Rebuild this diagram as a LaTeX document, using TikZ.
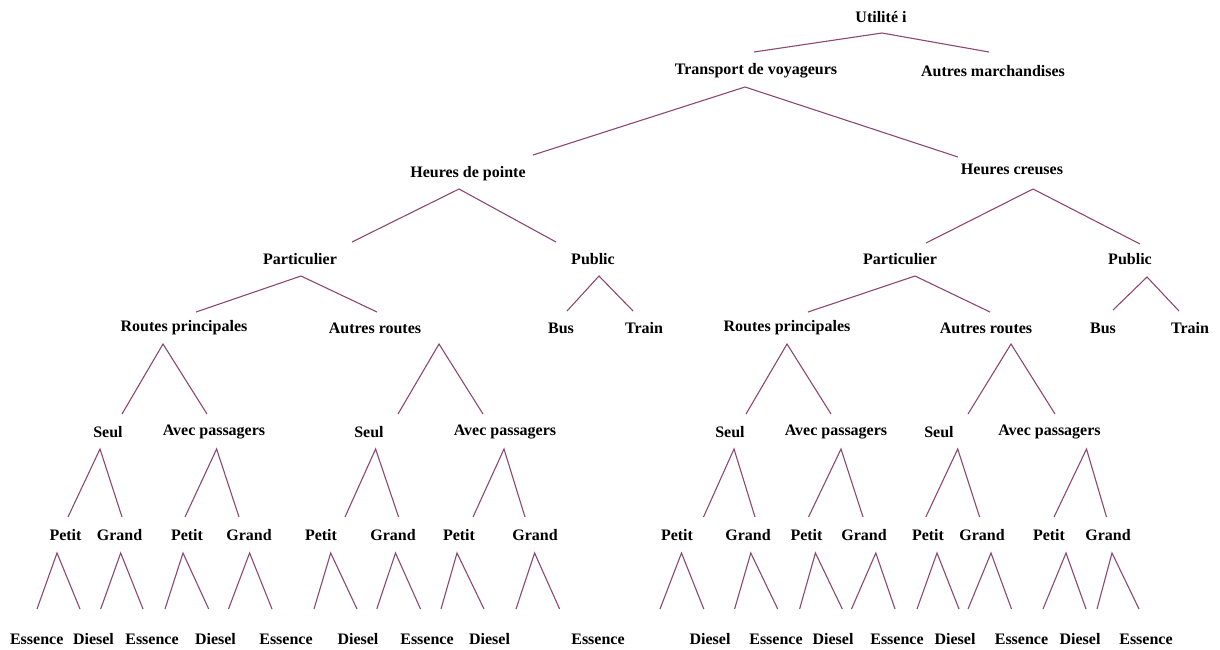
\documentclass[tikz,border=0pt]{standalone}
\usepackage{fontspec}
\setmainfont{Liberation Serif}
\begin{document}
\begin{tikzpicture}[x=1pt,y=-1pt,
  lbl/.style={inner sep=0pt,font=\bfseries\fontsize{16}{19}\selectfont,text=black},
  br/.style={draw={rgb,255:red,140;green,72;blue,112},line width=1.1pt,line join=miter}]
\useasboundingbox (0,0) rectangle (1220,649);
% labels
\node[lbl] (u) at (881,17) {Utilité i};
\node[lbl] (t) at (756,71) {Transport de voyageurs};
\node[lbl] (am) at (993,71) {Autres marchandises};
\node[lbl] (hp) at (468,174) {Heures de pointe};
\node[lbl] (hc) at (1012,169) {Heures creuses};
\node[lbl] (pl) at (300,259) {Particulier};
\node[lbl] (pul) at (593,259) {Public};
\node[lbl] (pr) at (900,259) {Particulier};
\node[lbl] (pur) at (1130,259) {Public};
\node[lbl] (rpl) at (184,328) {Routes principales};
\node[lbl] (arl) at (375,328) {Autres routes};
\node[lbl] (busl) at (561,328) {Bus};
\node[lbl] (trl) at (644,328) {Train};
\node[lbl] (rpr) at (787,328) {Routes principales};
\node[lbl] (arr) at (986,328) {Autres routes};
\node[lbl] (busr) at (1103,328) {Bus};
\node[lbl] (trr) at (1190,328) {Train};
\foreach \x/\t [count=\i] in {108/Seul,214/Avec passagers,369/Seul,505/Avec passagers,730/Seul,836/Avec passagers,939/Seul,1049.5/Avec passagers}
  \node[lbl] (m\i) at (\x,432) {\t};
\foreach \x/\t [count=\i] in {65.5/Petit,119.5/Grand,187/Petit,249/Grand,321/Petit,393/Grand,459/Petit,535/Grand,677/Petit,748/Grand,806.5/Petit,864/Grand,928/Petit,982/Grand,1049/Petit,1108/Grand}
  \node[lbl] (s\i) at (\x,535) {\t};
\foreach \x/\t [count=\i] in {36.7/Essence,93.5/Diesel,152/Essence,215.5/Diesel,286/Essence,358/Diesel,427/Essence,489.5/Diesel,598/Essence,710/Diesel,776/Essence,833/Diesel,897/Essence,955/Diesel,1021.5/Essence,1080/Diesel,1146/Essence}
  \node[lbl] (f\i) at (\x,639) {\t};
% branches (apex / left end / right end)
\foreach \ax/\ay/\lx/\ly/\rx/\ry [count=\i] in {
  882/33/754/52/989/52,
  745/87/533/155/958/157,
  459/189/352/242/556/242,
  1033/189/926/243/1140/244,
  301/276/196/312/377/312,
  599/276/567/311/633/311,
  915/276/808/312/990/312,
  1147/277/1113/310/1179/311}
{
  \coordinate (b\i a) at (\ax,\ay);
  \coordinate (b\i l) at (\lx,\ly);
  \coordinate (b\i r) at (\rx,\ry);
  \draw[br] (b\i l) -- (b\i a) -- (b\i r);
}
\foreach \ax/\lx/\rx [count=\i] in {163/122/207,439/398/483,787/746/831,1011/968/1055}
{
  \coordinate (c\i a) at (\ax,344);
  \coordinate (c\i l) at (\lx,414);
  \coordinate (c\i r) at (\rx,414);
  \draw[br] (c\i l) -- (c\i a) -- (c\i r);
}
\foreach \ax/\lx/\rx [count=\i] in {100/68/122,216.6/185/239,375.6/345/398.6,504/473/525,734/703.5/755,841/808.5/863,957.7/925.8/979.6,1086.5/1054/1106.5}
{
  \coordinate (d\i a) at (\ax,449);
  \coordinate (d\i l) at (\lx,517);
  \coordinate (d\i r) at (\rx,517);
  \draw[br] (d\i l) -- (d\i a) -- (d\i r);
}
\foreach \ax/\lx/\rx [count=\i] in {57/37/80,120.7/100.7/143,183/165/208.7,249.6/228.5/272,330.7/314/357,395.5/376.8/420.5,457/441/484,534.6/516/559.6,681.5/660/703.8,750.8/734.6/777.7,815.4/799.6/842.3,875.8/851.5/895,937/917/959,991/968/1011.5,1066/1043/1086,1112/1097/1139}
{
  \coordinate (e\i a) at (\ax,553);
  \coordinate (e\i l) at (\lx,609);
  \coordinate (e\i r) at (\rx,609);
  \draw[br] (e\i l) -- (e\i a) -- (e\i r);
}
\end{tikzpicture}
\end{document}
